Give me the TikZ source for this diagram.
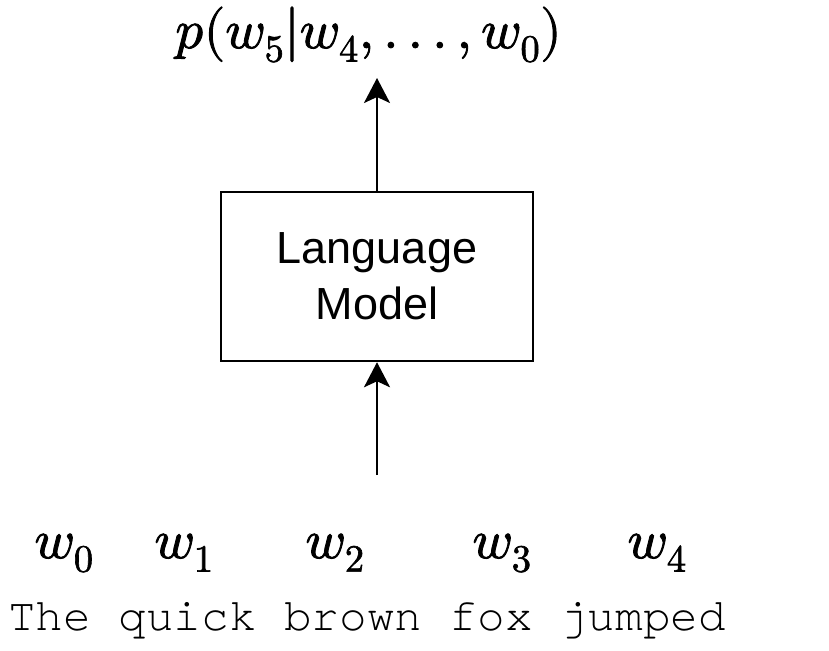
\documentclass[tikz,border=0pt]{standalone}
\usepackage{fontspec}
\usepackage{unicode-math}
\setmathfont{Latin Modern Math}[RawFeature={embolden=1.6}]
\setsansfont{Liberation Sans}
\setmonofont{TeX Gyre Cursor}
\usetikzlibrary{arrows.meta}

% spaced dots, as in the classic \ldots
\newcommand{\spaceddots}{\mathinner{.\mskip\thinmuskip.\mskip\thinmuskip.}}

\tikzset{
  flow/.style={line width=2.5pt, -{Stealth[length=25pt,width=26pt,inset=6pt]}},
  modelbox/.style={draw, line width=2.5pt, minimum width=312pt, minimum height=169pt,
    inner sep=0pt, align=center, font=\sffamily\fontsize{45}{56}\selectfont},
  mathlbl/.style={anchor=base, inner sep=0pt, font=\fontsize{55}{66}\selectfont},
  wordlbl/.style={anchor=base west, inner sep=0pt, font=\ttfamily\fontsize{46}{56}\selectfont}
}

\begin{document}
\begin{tikzpicture}[x=1pt, y=-1pt]
  \useasboundingbox (0,0) rectangle (829,650);

  % the model
  \node[modelbox] (lm) at (377,276.5) {Language\\Model};

  % output distribution
  \node[mathlbl] (out) at (368.5,48) {$p(w_5|w_4,\spaceddots,w_0)$};
  \coordinate (outtip) at (377,78);

  % input tokens
  \node[mathlbl] (w0) at (64,558) {$w_0$};
  \node[mathlbl] (w1) at (184,558) {$w_1$};
  \node[mathlbl] (w2) at (335,558) {$w_2$};
  \node[mathlbl] (w3) at (502,558) {$w_3$};
  \node[mathlbl] (w4) at (657,558) {$w_4$};
  \node[wordlbl] (words) at (8,630) {The quick brown fox jumped};
  \coordinate (intail) at (377,475);

  % connectors
  \draw[flow] (intail) -- (lm.south);
  \draw[flow] (lm.north) -- (outtip);
\end{tikzpicture}
\end{document}
